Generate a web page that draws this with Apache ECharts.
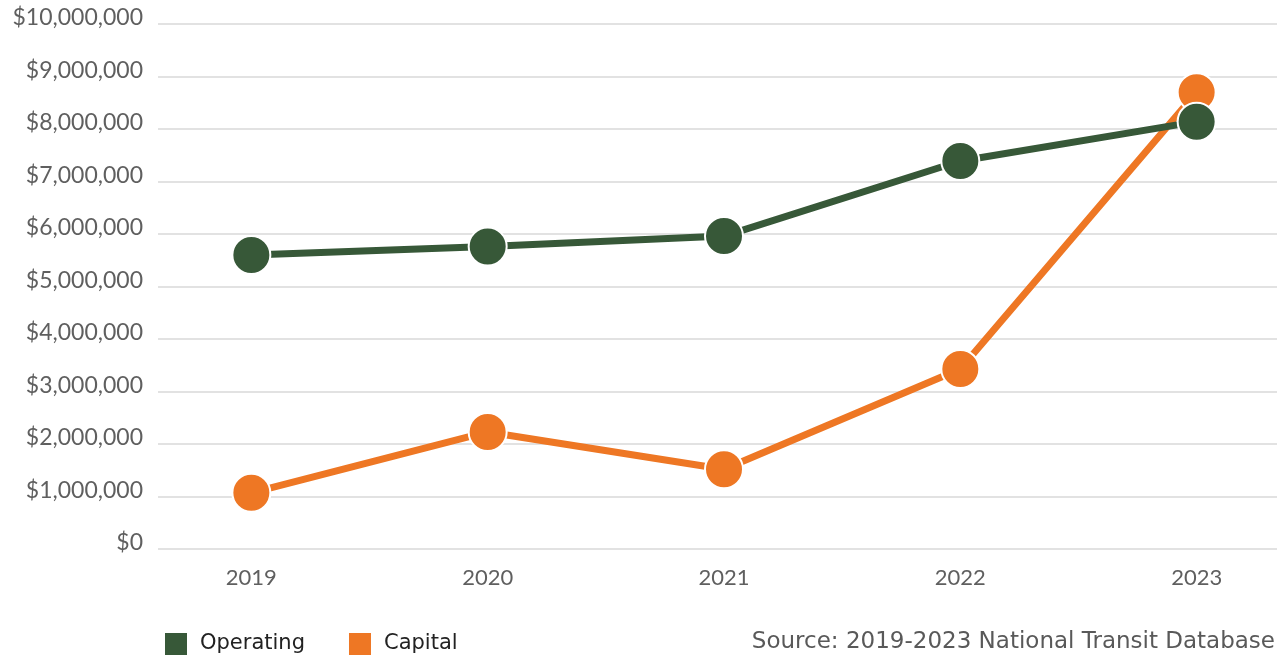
<!DOCTYPE html>
<html>
<head>
<meta charset="utf-8">
<script src="https://cdn.jsdelivr.net/npm/echarts@6/dist/echarts.min.js"></script>
<style>
html,body{margin:0;padding:0;background:#fff;}
#chart{width:1277px;height:656px;}
</style>
</head>
<body>
<div id="chart"></div>
<script>
const years = [2019, 2020, 2021, 2022, 2023];
const operating = [5600000, 5760000, 5960000, 7390000, 8140000];
const capital = [1070000, 2230000, 1520000, 3430000, 8700000];
const yTicks = [0, 1000000, 2000000, 3000000, 4000000, 5000000, 6000000, 7000000, 8000000, 9000000, 10000000];
const sourceText = 'Source: 2019-2023 National Transit Database';

const chart = echarts.init(document.getElementById('chart'));
const fmt = v => '$' + v.toLocaleString('en-US');
chart.setOption({
  animation: false,
  grid: { left: 158, right: 0, top: 24, bottom: 107, containLabel: false },
  xAxis: {
    type: 'value',
    min: 2018.605,
    max: 2023.34,
    splitLine: { show: false },
    axisLine: { show: false },
    axisTick: { show: false },
    axisLabel: {
      customValues: years,
      formatter: v => String(Math.round(v)),
      color: '#5f5f5f', fontFamily: 'Lato', fontSize: 22, margin: 18
    }
  },
  yAxis: {
    type: 'value',
    min: yTicks[0],
    max: yTicks[yTicks.length - 1],
    interval: 1000000,
    axisLine: { show: false },
    axisTick: { show: false },
    splitLine: { lineStyle: { color: '#d9d9d9', width: 1.5 } },
    axisLabel: { formatter: fmt, color: '#5f5f5f', fontFamily: 'Lato', fontSize: 23, margin: 15, verticalAlign: 'bottom', lineHeight: 12 }
  },
  legend: {
    left: 158, top: 626,
    icon: 'rect', itemWidth: 24, itemHeight: 24, itemGap: 42,
    textStyle: { fontFamily: 'DejaVu Sans', fontSize: 21, color: '#222', padding: [0, 0, 0, 7] },
    data: ['Operating', 'Capital']
  },
  title: {
    text: sourceText,
    right: -3, bottom: -3,
    textStyle: { fontFamily: 'DejaVu Sans', fontSize: 23, fontWeight: 'normal', color: '#595959' }
  },
  series: [
    {
      name: 'Capital', type: 'line', z: 2,
      data: years.map((y, i) => [y, capital[i]]),
      symbol: 'circle', symbolSize: 38,
      lineStyle: { width: 7, color: '#EE7724' },
      itemStyle: { color: '#EE7724', borderColor: '#fff', borderWidth: 2 }
    },
    {
      name: 'Operating', type: 'line', z: 3,
      data: years.map((y, i) => [y, operating[i]]),
      symbol: 'circle', symbolSize: 38,
      lineStyle: { width: 7, color: '#375838' },
      itemStyle: { color: '#375838', borderColor: '#fff', borderWidth: 2 }
    }
  ]
});
</script>
</body>
</html>
